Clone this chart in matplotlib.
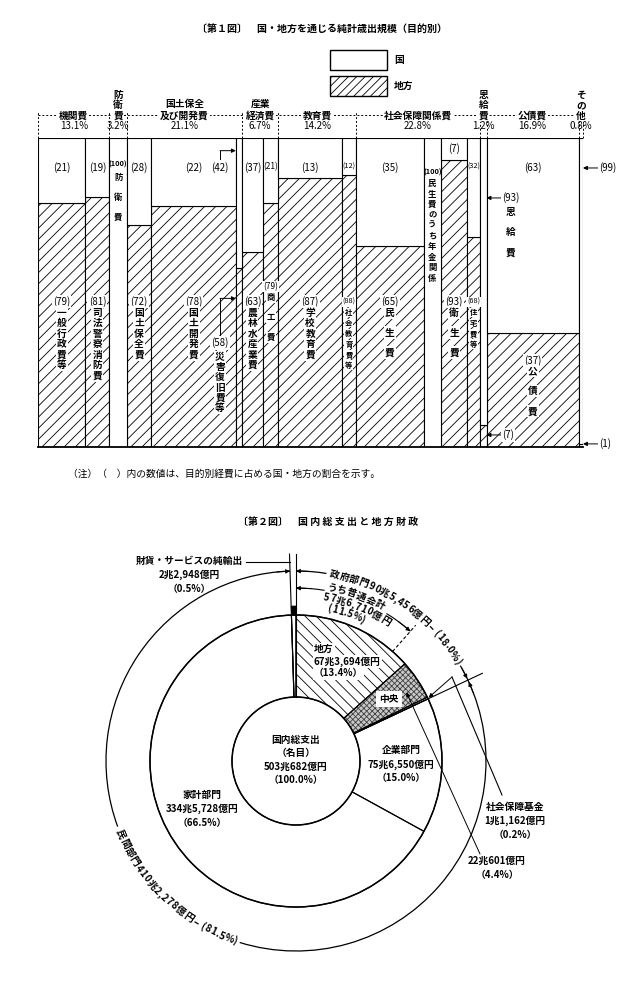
import numpy as np
import matplotlib
matplotlib.use("Agg")
import matplotlib.pyplot as plt
from matplotlib.patches import Rectangle, Wedge, Circle, Arc

plt.rcParams['font.family'] = ['Noto Sans CJK JP', 'DejaVu Sans']
plt.rcParams['hatch.linewidth'] = 0.6

# --- Fig.1 data: net expenditure by purpose ----------------------------------
cat_names = ['機関費', '防衛費', '国土保全\n及び開発費', '産業\n経済費', '教育費',
             '社会保障関係費', '恩給費', '公債費', 'その他']
cat_share = [13.1, 3.2, 21.1, 6.7, 14.2, 22.8, 1.2, 16.9, 0.8]
cat_vertical = [False, True, False, False, False, False, True, False, True]

item_names = ['一般行政費等', '司法警察消防費', '防衛費', '国土保全費', '国土開発費',
              '災害復旧費等', '農林水産業費', '商工費', '学校教育費', '社会教育費等',
              '民生費', '民生費のうち年金関係', '衛生費', '住宅費等', '恩給費', '公債費', 'その他']
item_share = [8.7, 4.4, 3.2, 4.5, 15.5, 1.1, 3.9, 2.8, 11.7, 2.5,
              12.5, 3.1, 4.9, 2.3, 1.2, 16.9, 0.8]
national = [21, 19, 100, 28, 22, 42, 37, 21, 13, 12, 35, 100, 7, 32, 93, 63, 99]
local = [100 - v for v in national]

# --- Fig.2 data: gross domestic expenditure ----------------------------------
pie_names = ['地方', '中央', '社会保障基金', '企業部門', '家計部門', '財貨・サービスの純輸出']
pie_share = [13.4, 4.4, 0.2, 15.0, 66.5, 0.5]
pie_amount = ['67兆3,694億円', '22兆601億円', '1兆1,162億円', '75兆6,550億円',
              '334兆5,728億円', '2兆2,948億円']
total_text = ['国内総支出', '（名目）', '503兆682億円', '（100.0%）']
gov_text = ['政府部門', '90兆5,456億円']
private_text = ['民間部門', '410兆2,278億円']
general_text = ['うち普通会計', '57兆6,710億円']
general_share = 11.5

W, H = 643, 981
fig = plt.figure(figsize=(W / 100, H / 100), dpi=100)


def px_axes(x0, y0, x1, y1):
    return fig.add_axes([x0 / W, 1 - y1 / H, (x1 - x0) / W, (y1 - y0) / H])


WHITE = dict(boxstyle='square,pad=0.12', fc='white', ec='none')
ARROW = dict(arrowstyle='-|>', color='black', lw=0.7, mutation_scale=6, shrinkA=0, shrinkB=0)

# overlay for titles, legend and note (pixel coordinates)
ov = fig.add_axes([0, 0, 1, 1])
ov.set_xlim(0, W)
ov.set_ylim(H, 0)
ov.axis('off')

ov.text(322, 30, '〔第１図〕　国・地方を通じる純計歳出規模（目的別）', ha='center', va='center',
        fontsize=7.2, fontweight='bold')
ov.add_patch(Rectangle((330, 50), 57, 20, fc='white', ec='black', lw=1.0))
ov.add_patch(Rectangle((330, 76), 57, 20, fc='white', ec='black', lw=1.0, hatch='////'))
ov.text(394, 60, '国', ha='left', va='center', fontsize=7, fontweight='bold')
ov.text(394, 86, '地方', ha='left', va='center', fontsize=7, fontweight='bold')
ov.text(68, 474, '（注）（　）内の数値は、目的別経費に占める国・地方の割合を示す。', ha='left',
        va='center', fontsize=7)
ov.text(328, 522, '〔第２図〕　国 内 総 支 出 と 地 方 財 政', ha='center', va='center',
        fontsize=7.2, fontweight='bold')

# --- Fig.1 -------------------------------------------------------------------
ax1 = px_axes(38, 138, 583, 447)
ax1.set_xlim(0, 100)
ax1.set_ylim(0, 100)
ax1.axis('off')
PXY = 309 / 100  # pixels per data unit (y)

left = np.concatenate([[0], np.cumsum(item_share)[:-1]])
ax1.bar(left, local, item_share, align='edge', color='white', edgecolor='black',
        hatch='///', lw=0.8)
ax1.bar(left, national, item_share, bottom=local, align='edge', color='white',
        edgecolor='black', lw=0.8)
ax1.plot([0, 100], [0, 0], color='black', lw=1.3, clip_on=False)

# category header
cat_left = np.concatenate([[0], np.cumsum(cat_share)[:-1]])
cat_mid = cat_left + np.array(cat_share) / 2
Y_DASH = 107.4
ax1.plot([0, 100], [Y_DASH, Y_DASH], ls=(0, (2, 2)), lw=0.7, color='black', clip_on=False)
for b in list(cat_left) + [100]:
    ax1.plot([b, b], [100, Y_DASH + 1.0], ls=(0, (2, 2)), lw=0.7, color='black', clip_on=False)
for name, share, mid, vert in zip(cat_names, cat_share, cat_mid, cat_vertical):
    txt = '\n'.join(name) if vert else name
    ax1.text(mid, 105.7, txt, ha='center', va='bottom', fontsize=7, fontweight='bold',
             linespacing=1.0 if vert else 1.15, bbox=WHITE, clip_on=False)
    ax1.text(mid, 103.9, f'{share}%', ha='center', va='center', fontsize=7, clip_on=False)


def vtext(x, y0, s, pitch, fs):
    for k, c in enumerate(s):
        ax1.text(x, y0 - k * pitch / PXY, c, ha='center', va='center', fontsize=fs,
                 fontweight='bold', bbox=WHITE)


for i, (nm, x0, w, nat, loc) in enumerate(zip(item_names, left, item_share, national, local)):
    xc = x0 + w / 2
    fs = 7 if w >= 3.6 else (6 if w >= 2.6 else 5.3)
    pitch = 20 if len(nm) == 3 else 10.5
    if nm == '災害復旧費等':
        xl = x0 - 2.9
        ax1.text(xl, 90.6, f'({nat})', ha='center', va='center', fontsize=7, bbox=WHITE)
        ax1.plot([xl, xl], [93.2, 95.9], color='black', lw=0.7)
        ax1.annotate('', xy=(x0, 95.9), xytext=(xl, 95.9), arrowprops=ARROW)
        ax1.plot([xl, xl], [36.2, 48.1], color='black', lw=0.7)
        ax1.annotate('', xy=(x0, 48.1), xytext=(xl, 48.1), arrowprops=ARROW)
        ax1.text(xl, 33.7, f'({loc})', ha='center', va='center', fontsize=7, bbox=WHITE)
        vtext(xl, 29.2, nm, 10.3, 7)
        continue
    if nm in ('恩給費', 'その他'):
        xe = x0 + w
        xt = xe + 2.7
        y_nat = 80.6 if nm == '恩給費' else 90.3
        y_loc = 3.9 if nm == '恩給費' else 1.0
        ax1.annotate('', xy=(xe, y_nat), xytext=(xt, y_nat), arrowprops=ARROW, annotation_clip=False)
        ax1.annotate('', xy=(xe, y_loc), xytext=(xt, y_loc), arrowprops=ARROW, annotation_clip=False)
        ax1.text(xt + 0.2, y_nat, f'({nat})', ha='left', va='center', fontsize=7, bbox=WHITE, clip_on=False)
        ax1.text(xt + 0.2, y_loc, f'({loc})', ha='left', va='center', fontsize=7, bbox=WHITE, clip_on=False)
        if nm == '恩給費':
            vtext(xt + 1.7, 76.1, nm, 20.5, 7)
        continue
    if nat == 100:
        y_lab = 91.3 if w > 3.15 else 88.8
        ax1.text(xc, y_lab, f'({nat})', ha='center', va='center', fontsize=5.3, fontweight='bold')
        vtext(xc, y_lab - 12.5 / PXY if len(nm) == 3 else y_lab - 11 / PXY, nm, pitch, fs)
        continue
    y_nat = 90.6 if nat >= 10 else 100 - nat / 2
    ax1.text(xc, y_nat, f'({nat})', ha='center', va='center', fontsize=fs)
    y_loc = 51.8 if nm == '商工費' else min(47, loc - 9)
    ax1.text(xc, y_loc, f'({loc})', ha='center', va='center', fontsize=fs, bbox=WHITE)
    vtext(xc, y_loc - 10.8 / PXY, nm, pitch, fs)

# --- Fig.2 -------------------------------------------------------------------
CX, CY = 296, 761
ax2 = px_axes(0, 500, W, H)
ax2.set_xlim(-CX, W - CX)
ax2.set_ylim(CY - H, CY - 500)
ax2.axis('off')

R0, R1, R2, RG = 64, 146, 190, 173
edges = np.concatenate([[0], np.cumsum(pie_share)]) * 3.6
t_gen = general_share * 3.6
gov_share = sum(pie_share[:3])
private_share = sum(pie_share[3:5])


def pol(t, r):
    a = np.deg2rad(t)
    return r * np.sin(a), r * np.cos(a)


def sector(i, **kw):
    ax2.add_patch(Wedge((0, 0), R1, 90 - edges[i + 1], 90 - edges[i], width=R1 - R0, **kw))


def radial(t, r_in, r_out, **kw):
    (xa, ya), (xb, yb) = pol(t, r_in), pol(t, r_out)
    ax2.plot([xa, xb], [ya, yb], color='black', lw=0.8, **kw)


def arc(r, t1, t2, lw=0.9):
    # clockwise-from-top angles t1 < t2
    ax2.add_patch(Arc((0, 0), 2 * r, 2 * r, theta1=90 - t2, theta2=90 - t1, lw=lw))


def arc_arrow(r, t_from, t_to):
    ax2.annotate('', xy=pol(t_to, r), xytext=pol(t_from, r), arrowprops=ARROW)


def char_w(c):
    if ord(c) > 0x2E80:
        return 1.06
    if c in ',.':
        return 0.36
    if c in '()':
        return 0.46
    if c == '%':
        return 0.9
    return 0.64


def arc_text(s, r, t_start, fs=7, cw=True):
    em = fs * 100 / 72
    t = t_start
    for c in s:
        dt = np.rad2deg(em * char_w(c) / r)
        tc = t + dt / 2 if cw else t - dt / 2
        x, y = pol(tc, r)
        rot = -tc if cw else 180 - tc
        ax2.text(x, y, c, rotation=rot, rotation_mode='anchor', ha='center', va='center',
                 fontsize=fs, fontweight='bold')
        t = t + dt if cw else t - dt
    return t


sector(0, fc='white', ec='black', hatch='\\\\\\', lw=0)
sector(1, fc='#c8c8c8', ec='#404040', hatch='xxxxxx', lw=0)
for i in range(len(pie_share)):
    sector(i, fc='none', ec='black', lw=0.8)
ax2.add_patch(Wedge((0, 0), R1 + 9, 90 - edges[-1], 90 - edges[-2], width=9, fc='black', ec='black', lw=0.5))
ax2.add_patch(Circle((0, 0), R0, fc='none', ec='black', lw=1.1))
ax2.add_patch(Circle((0, 0), R1, fc='none', ec='black', lw=1.1))

radial(edges[-2], R0, 207)
radial(edges[-1], R0, 207)
radial(edges[3], R0, 206)
radial(t_gen, R1, 181, ls=(0, (3, 2)))

# outer arcs with text sitting in gaps
g0 = 10
g1 = arc_text(gov_text[0] + gov_text[1], R2, g0)
g2 = g1 + 3
g3 = arc_text(f'({gov_share:.1f}%)', R2, g2)
arc(R2, 0, g0 - 0.8)
arc(R2, g1 + 0.8, g2 - 0.8)
arc(R2, g3 + 0.8, edges[3])

p0 = 249
p1 = arc_text(private_text[0] + private_text[1], R2, p0, cw=False)
p2 = p1 - 3
p3 = arc_text(f'({private_share:.1f}%)', R2, p2, cw=False)
arc(R2, edges[3], p3 - 0.8)
arc(R2, p2 + 0.8, p1 - 0.8)
arc(R2, p0 + 0.8, edges[-2])

q0 = 10
q1 = arc_text(general_text[0], 177, q0)
arc_text(general_text[1], 166, 9.5)
arc_text(f'({general_share:.1f}%)', 156, 11.5)
arc(RG, 0, q0 - 0.5, lw=0.8)
arc(RG, q1 + 1.5, t_gen, lw=0.8)

arc_arrow(R2, 4, 0)
arc_arrow(R2, edges[3] - 4, edges[3] - 0.5)
arc_arrow(R2, edges[3] + 4.5, edges[3] + 0.6)
arc_arrow(R2, edges[-2] - 4, edges[-2])
arc_arrow(RG, 5, 0)
arc_arrow(RG, t_gen - 5, t_gen)

# labels inside the rings
ax2.text(0, 1, '\n'.join(total_text), ha='center', va='center', fontsize=7,
         fontweight='bold', linespacing=1.45)

mid = (edges[:-1] + edges[1:]) / 2
lx, ly = pol(mid[0] + 2, 111)
for k, line in enumerate([pie_names[0], pie_amount[0], f'（{pie_share[0]:.1f}%）']):
    ax2.text(lx - 31, ly + 12 - 12 * k, line, ha='left', va='center', fontsize=7,
             fontweight='bold', bbox=WHITE)

cx_, cy_ = pol(mid[1], 112)
ax2.text(cx_, cy_, pie_names[1], ha='center', va='center', fontsize=7, fontweight='bold',
         bbox=dict(boxstyle='square,pad=0.3', fc='white', ec='none'))

for i, t, r in [(3, mid[3], 105), (4, 243, 105)]:
    x, y = pol(t, r)
    ax2.text(x, y, f'{pie_names[i]}\n{pie_amount[i]}\n（{pie_share[i]:.1f}%）', ha='center',
             va='center', fontsize=7, fontweight='bold', linespacing=1.45)

# social security fund
ax2.text(219, -60, f'{pie_names[2]}\n{pie_amount[2]}\n（{pie_share[2]:.1f}%）', ha='center',
         va='center', fontsize=7, fontweight='bold', linespacing=1.45)
ax2.plot([206, 156], [-34, 84], color='black', lw=0.8)
ax2.annotate('', xy=pol(mid[2], R1 + 1), xytext=(156, 84), arrowprops=ARROW)

# central government amount
ax2.text(201, -107, f'{pie_amount[1]}\n（{pie_share[1]:.1f}%）', ha='center', va='center',
         fontsize=7, fontweight='bold', linespacing=1.45)
ax2.annotate('', xy=pol(mid[1] + 2, 130), xytext=(184, -93), arrowprops=ARROW)

# net exports
ax2.text(-107, 186, f'{pie_names[5]}\n{pie_amount[5]}\n（{pie_share[5]:.1f}%）', ha='center',
         va='center', fontsize=7, fontweight='bold', linespacing=1.45)
ax2.plot([-50, pol(edges[-2], 199)[0]], [199, 199], color='black', lw=0.8)

fig.savefig('out.png', dpi=100)
